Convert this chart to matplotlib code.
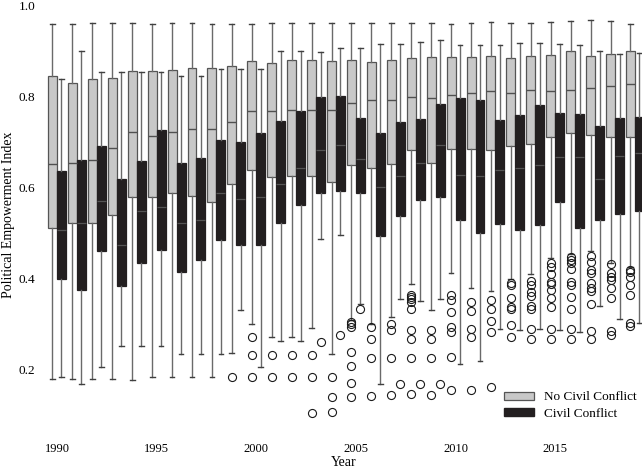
import numpy as np
import matplotlib
matplotlib.use("Agg")
import matplotlib.pyplot as plt
from matplotlib.patches import Patch

plt.rcParams["font.family"] = ["Liberation Serif", "DejaVu Serif"]

years = list(range(1990, 2020))

# no civil conflict: lower whisker, q1, median, q3, upper whisker
peace_lo = [0.177, 0.177, 0.177, 0.177, 0.176, 0.183, 0.183, 0.183, 0.183, 0.236,
            0.299, 0.270, 0.270, 0.291, 0.234, 0.308, 0.300, 0.314, 0.386, 0.330,
            0.410, 0.379, 0.372, 0.397, 0.409, 0.445, 0.452, 0.460, 0.434, 0.425]
peace_q1 = [0.509, 0.522, 0.520, 0.538, 0.577, 0.577, 0.586, 0.581, 0.568, 0.606,
            0.637, 0.621, 0.624, 0.624, 0.612, 0.649, 0.642, 0.650, 0.681, 0.652,
            0.683, 0.683, 0.681, 0.690, 0.695, 0.711, 0.718, 0.714, 0.711, 0.711]
peace_med = [0.650, 0.652, 0.659, 0.685, 0.720, 0.713, 0.720, 0.727, 0.727, 0.743,
             0.766, 0.768, 0.770, 0.770, 0.770, 0.785, 0.791, 0.791, 0.797, 0.796,
             0.802, 0.806, 0.810, 0.806, 0.813, 0.810, 0.813, 0.818, 0.823, 0.827]
peace_q3 = [0.844, 0.828, 0.837, 0.840, 0.855, 0.855, 0.857, 0.861, 0.861, 0.867,
            0.878, 0.873, 0.879, 0.879, 0.878, 0.879, 0.874, 0.880, 0.883, 0.886,
            0.885, 0.886, 0.888, 0.883, 0.889, 0.890, 0.898, 0.889, 0.893, 0.898]
peace_hi = [0.958, 0.958, 0.960, 0.960, 0.960, 0.959, 0.960, 0.960, 0.958, 0.958,
            0.958, 0.961, 0.961, 0.961, 0.961, 0.960, 0.960, 0.960, 0.960, 0.960,
            0.959, 0.960, 0.963, 0.960, 0.960, 0.963, 0.964, 0.967, 0.965, 0.958]
peace_out = {
    1999: [0.183],
    2000: [0.270, 0.231, 0.183],
    2001: [0.231, 0.183],
    2002: [0.231, 0.183],
    2003: [0.231, 0.183, 0.104],
    2004: [0.183, 0.139, 0.106],
    2005: [0.303, 0.298, 0.293, 0.237, 0.207, 0.169, 0.138],
    2006: [0.292, 0.265, 0.225, 0.141],
    2007: [0.299, 0.286, 0.225, 0.143],
    2008: [0.363, 0.358, 0.353, 0.347, 0.331, 0.286, 0.266, 0.225, 0.145],
    2009: [0.286, 0.266, 0.225, 0.143],
    2010: [0.363, 0.352, 0.326, 0.292, 0.281, 0.226, 0.154],
    2011: [0.348, 0.328, 0.289, 0.270, 0.154],
    2012: [0.352, 0.331, 0.305, 0.282, 0.161],
    2013: [0.389, 0.385, 0.357, 0.336, 0.331, 0.296, 0.271],
    2014: [0.393, 0.385, 0.370, 0.360, 0.338, 0.333, 0.287, 0.267],
    2015: [0.432, 0.425, 0.408, 0.392, 0.387, 0.374, 0.355, 0.336, 0.287, 0.267],
    2016: [0.447, 0.440, 0.432, 0.419, 0.392, 0.385, 0.359, 0.333, 0.287, 0.267],
    2017: [0.449, 0.436, 0.418, 0.412, 0.388, 0.377, 0.371, 0.343, 0.284, 0.267],
    2018: [0.430, 0.410, 0.402, 0.396, 0.377, 0.355, 0.284, 0.275],
    2019: [0.418, 0.414, 0.403, 0.385, 0.363, 0.302, 0.295],
}

# civil conflict
war_lo = [0.182, 0.166, 0.204, 0.251, 0.251, 0.251, 0.234, 0.234, 0.234, 0.330,
          0.205, 0.262, 0.262, 0.485, 0.495, 0.343, 0.168, 0.354, 0.350, 0.354,
          0.212, 0.218, 0.289, 0.286, 0.287, 0.286, 0.282, 0.339, 0.309, 0.302]
war_q1 = [0.397, 0.374, 0.459, 0.382, 0.433, 0.462, 0.413, 0.440, 0.484, 0.473,
          0.473, 0.522, 0.561, 0.587, 0.591, 0.587, 0.493, 0.536, 0.571, 0.579,
          0.528, 0.500, 0.518, 0.506, 0.516, 0.567, 0.510, 0.527, 0.541, 0.547]
war_med = [0.505, 0.522, 0.569, 0.473, 0.548, 0.555, 0.522, 0.527, 0.586, 0.573,
           0.578, 0.606, 0.641, 0.681, 0.692, 0.662, 0.601, 0.625, 0.653, 0.692,
           0.626, 0.625, 0.637, 0.642, 0.648, 0.665, 0.667, 0.618, 0.668, 0.675]
war_q3 = [0.636, 0.659, 0.690, 0.618, 0.657, 0.725, 0.652, 0.664, 0.703, 0.700,
          0.718, 0.746, 0.767, 0.798, 0.800, 0.752, 0.719, 0.743, 0.749, 0.783,
          0.796, 0.792, 0.747, 0.759, 0.780, 0.763, 0.761, 0.734, 0.752, 0.754]
war_hi = [0.837, 0.900, 0.852, 0.852, 0.852, 0.852, 0.844, 0.844, 0.859, 0.859,
          0.859, 0.899, 0.900, 0.897, 0.905, 0.905, 0.915, 0.915, 0.919, 0.922,
          0.913, 0.913, 0.911, 0.916, 0.916, 0.914, 0.913, 0.900, 0.892, 0.895]
war_out = {
    2003: [0.260],
    2004: [0.275],
    2005: [0.332],
    2007: [0.168],
    2008: [0.168],
    2009: [0.168],
}


def make_stats(lo, q1, med, q3, hi, out):
    stats = []
    for i, yr in enumerate(years):
        stats.append({
            "whislo": lo[i], "q1": q1[i], "med": med[i], "q3": q3[i],
            "whishi": hi[i], "fliers": np.array(out.get(yr, [])),
        })
    return stats


fig = plt.figure(figsize=(6.42, 4.72), dpi=100)
ax = fig.add_axes([0.0701, 0.1025, 0.9298, 0.8869])

pos = np.array(years, dtype=float)
w = 0.45
grey = "#c8c8c8"
dark = "#231f20"
wcol = "#6a6a6a"

ax.bxp(make_stats(peace_lo, peace_q1, peace_med, peace_q3, peace_hi, peace_out),
       positions=pos - w / 2, widths=w, patch_artist=True, capwidths=0.24,
       boxprops=dict(facecolor=grey, edgecolor="#555555", linewidth=0.9),
       medianprops=dict(color="#505050", linewidth=1.0),
       whiskerprops=dict(color=wcol, linewidth=1.0),
       capprops=dict(color="#404040", linewidth=1.0),
       flierprops=dict(marker="o", markersize=5.8, markerfacecolor="none",
                       markeredgecolor="#1a1a1a", markeredgewidth=0.8))

ax.bxp(make_stats(war_lo, war_q1, war_med, war_q3, war_hi, war_out),
       positions=pos + w / 2, widths=w, patch_artist=True, capwidths=0.24,
       boxprops=dict(facecolor=dark, edgecolor=dark, linewidth=0.9),
       medianprops=dict(color="#555555", linewidth=0.9),
       whiskerprops=dict(color=wcol, linewidth=1.0),
       capprops=dict(color="#404040", linewidth=1.0),
       flierprops=dict(marker="o", markersize=5.8, markerfacecolor="none",
                       markeredgecolor="#1a1a1a", markeredgewidth=0.8))

ax.set_xlim(1989.4, 2019.35)
ax.set_ylim(0.08, 1.0)
ax.set_xticks([1990, 1995, 2000, 2005, 2010, 2015])
ax.set_xticklabels(["1990", "1995", "2000", "2005", "2010", "2015"])
ax.set_yticks([0.2, 0.4, 0.6, 0.8, 1.0])
ax.set_yticklabels(["0.2", "0.4", "0.6", "0.8", "1.0"])
ax.tick_params(axis="x", length=0, pad=14, labelsize=9)
ax.tick_params(axis="y", length=0, pad=7, labelsize=9.5)
for s in ax.spines.values():
    s.set_visible(False)

ax.set_xlabel("Year", fontsize=10, labelpad=0.5)
ax.set_ylabel("Political Empowerment Index", fontsize=10)
ax.yaxis.set_label_coords(-0.05, 0.5)

handles = [Patch(facecolor=grey, edgecolor="#555555", linewidth=0.9),
           Patch(facecolor=dark, edgecolor=dark)]
ax.legend(handles, ["No Civil Conflict", "Civil Conflict"], loc="upper left",
          bbox_to_anchor=(0.76, 0.09), frameon=False, fontsize=9.5,
          handlelength=2.3, handleheight=0.55, handletextpad=0.7,
          labelspacing=0.35, borderaxespad=0)

fig.savefig("out.png", dpi=100)
